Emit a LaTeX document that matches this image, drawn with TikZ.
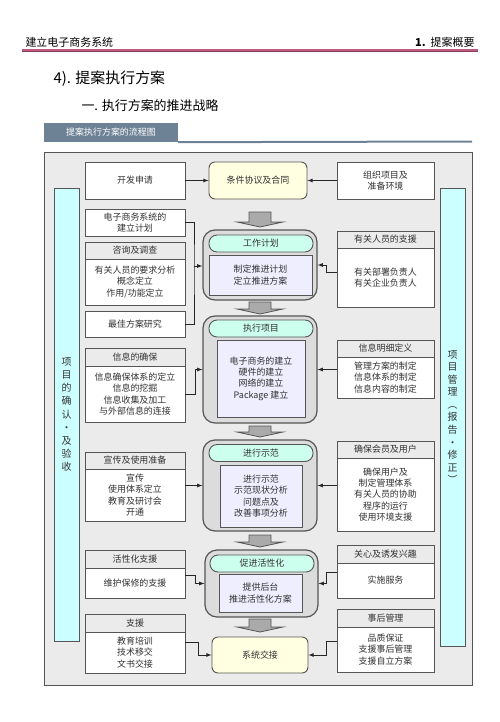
\documentclass[tikz,border=0pt]{standalone}
\usepackage{fontspec}
\setmainfont{Noto Sans CJK SC}
\usepackage{tikz}
\usetikzlibrary{arrows,calc}
\definecolor{framebg}{RGB}{235,235,235}
\definecolor{edge}{RGB}{85,85,85}
\definecolor{stagebg}{RGB}{220,220,220}
\definecolor{pillbg}{RGB}{204,255,238}
\definecolor{innerbg}{RGB}{238,238,255}
\definecolor{yellowbg}{RGB}{255,255,225}
\definecolor{barbg}{RGB}{204,255,255}
\definecolor{tabcol}{RGB}{110,130,150}
\definecolor{rulecol}{RGB}{190,90,130}
\definecolor{txt}{RGB}{50,50,50}
\definecolor{arrbg}{RGB}{170,170,170}

\begin{document}
\begin{tikzpicture}[x=1bp,y=-1bp,
    box/.style={draw=edge, fill=white, line width=0.9bp, inner sep=0pt, align=center, text=txt, font=\fontsize{9}{11.3}\selectfont},
    lbox/.style={box, minimum width=100bp},
    rbox/.style={box, minimum width=97bp},
    ybox/.style={box, fill=yellowbg, rounded corners=6bp},
    stage/.style={draw=edge, fill=stagebg, line width=1.2bp, rounded corners=12bp, minimum width=114bp, inner sep=0pt},
    pill/.style={box, fill=pillbg, rounded corners=8bp, minimum width=104bp, minimum height=17bp},
    inbox/.style={box, fill=innerbg},
    bar/.style={draw=edge, fill=barbg, line width=0.9bp, minimum width=25bp, inner sep=0pt, align=center, text=txt, font=\fontsize{10}{13.2}\selectfont},
    blockarr/.style={draw=edge, fill=arrbg, line width=0.8bp},
    conn/.style={draw=black!85, line width=0.8bp, -latex},
    line/.style={draw=black!85, line width=0.8bp}]
  \useasboundingbox (0,0) rectangle (500,722);

  \node[anchor=west, font=\fontsize{11}{13}\selectfont] (doctitle) at (22,42) {建立电子商务系统};
  \node[anchor=east, font=\fontsize{11}{13}\selectfont] (chapter) at (478,42) {\textbf{1.}\ \ 提案概要};
  \draw[rulecol, line width=3bp] (22,51) -- (478,51);
  \draw[rulecol!70!black, line width=0.7bp] (22,51) -- (478,51);
  \node[anchor=west, font=\fontsize{15}{18}\selectfont] (sec) at (50,79) {4). 提案执行方案};
  \node[anchor=west, font=\fontsize{13}{15}\selectfont] (subsec) at (78,106) {一. 执行方案的推进战略};
  \node[fill=tabcol, text=white, minimum width=134bp, minimum height=19bp, inner sep=0pt, font=\fontsize{9}{10}\selectfont] (tab) at (111,132.5) {提案执行方案的流程图};
  \draw[tabcol, line width=2bp] (tab.south east) -- (472,141.5);

  \draw[edge, fill=framebg, line width=1bp] (44,152) rectangle (472,685);

  \node[bar, minimum height=453bp] (confirm) at (66.5,414.5) {项\\目\\的\\确\\认\\•\\及\\验\\收};
  \node[bar, minimum height=458bp, font=\fontsize{10}{12.6}\selectfont] (manage) at (452.5,417) {项\\目\\管\\理\\︵\\报\\告\\•\\修\\正\\︶};

  \node[lbox, minimum height=37bp] (apply) at (135,180.5) {开发申请};
  \node[lbox, minimum height=27bp] (buildplan) at (135,222.5) {电子商务系统的\\建立计划};
  \node[lbox, fill=framebg, minimum height=17bp] (consult) at (135,250.5) {咨询及调查};
  \node[lbox, minimum height=46bp] (consultb) at (135,282) {有关人员的要求分析\\概念定立\\作用/功能定立};
  \node[lbox, minimum height=26bp] (bestplan) at (135,324) {最佳方案研究};
  \node[lbox, fill=framebg, minimum height=18bp] (infosec) at (135,357) {信息的确保};
  \node[lbox, minimum height=56bp] (infosecb) at (135,394) {信息确保体系的定立\\信息的挖掘\\信息收集及加工\\与外部信息的连接};
  \node[lbox, fill=framebg, minimum height=17bp] (promo) at (135,460.5) {宣传及使用准备};
  \node[lbox, minimum height=52bp] (promob) at (135,495) {宣传\\使用体系定立\\教育及研讨会\\开通};
  \node[lbox, fill=framebg, minimum height=18bp] (upkeep) at (135,559) {活性化支援};
  \node[lbox, minimum height=30bp] (upkeepb) at (135,583) {维护保修的支援};
  \node[lbox, fill=framebg, minimum height=18bp] (support) at (135,623) {支援};
  \node[lbox, minimum height=41bp] (supportb) at (135,652.5) {教育培训\\技术移交\\文书交接};

  \node[rbox, minimum height=37bp] (prepare) at (385.5,180.5) {组织项目及\\准备环境};
  \node[rbox, fill=framebg, minimum height=17bp] (staff) at (385.5,239.5) {有关人员的支援};
  \node[rbox, minimum height=59bp] (staffb) at (385.5,277.5) {有关部署负责人\\有关企业负责人};
  \node[rbox, fill=framebg, minimum height=17bp] (infodef) at (385.5,348.5) {信息明细定义};
  \node[rbox, minimum height=41bp] (infodefb) at (385.5,377.5) {管理方案的制定\\信息体系的制定\\信息内容的制定};
  \node[rbox, fill=framebg, minimum height=17bp] (users) at (385.5,449.5) {确保会员及用户};
  \node[rbox, minimum height=73bp] (usersb) at (385.5,494.5) {确保用户及\\制定管理体系\\有关人员的协助\\程序的运行\\使用环境支援};
  \node[rbox, fill=framebg, minimum height=18bp] (interest) at (385.5,554) {关心及诱发兴趣};
  \node[rbox, minimum height=35bp] (interestb) at (385.5,580.5) {实施服务};
  \node[rbox, fill=framebg, minimum height=18bp] (aftercare) at (385.5,618) {事后管理};
  \node[rbox, minimum height=45bp] (aftercareb) at (385.5,649.5) {品质保证\\支援事后管理\\支援自立方案};

  \node[ybox, minimum width=98bp, minimum height=37bp] (contract) at (258,180.5) {条件协议及合同};

  \node[stage, minimum height=70bp] (work) at (260,265) {};
  \node[pill] (workt) at (261,243.5) {工作计划};
  \node[inbox, minimum width=103bp, minimum height=40bp] (workb) at (260.5,275) {制定推进计划\\定立推进方案};

  \node[stage, minimum height=107bp] (exec) at (260,369.5) {};
  \node[pill] (exect) at (261,328.5) {执行项目};
  \node[inbox, minimum width=88bp, minimum height=77bp] (execb) at (261,378.5) {电子商务的建立\\硬件的建立\\网络的建立\\Package 建立};

  \node[stage, minimum height=91bp] (demo) at (260,485.5) {};
  \node[pill] (demot) at (261,453) {进行示范};
  \node[inbox, minimum width=82bp, minimum height=62bp] (demob) at (261,496) {进行示范\\示范现状分析\\问题点及\\改善事项分析};

  \node[stage, minimum width=113bp, minimum height=67bp] (boost) at (261.5,583.5) {};
  \node[pill] (boostt) at (262,563.5) {促进活性化};
  \node[inbox, minimum width=83bp, minimum height=38bp] (boostb) at (260.5,593) {提供后台\\推进活性化方案};

  \node[ybox, minimum width=96bp, minimum height=36bp] (handover) at (260,655) {系统交接};

  \foreach \ya/\yb in {212/227,302/314,426/437,535/547,619/632}
    \draw[blockarr] (249,\ya) -- (271,\ya) -- (271,\yb-5) -- (283,\yb-5) -- (260,\yb) -- (237,\yb-5) -- (249,\yb-5) -- cycle;

  \draw[conn] (apply.east) -- (contract.west);
  \draw[conn] (prepare.west) -- (contract.east);

  \coordinate (gather) at (194,266);
  \draw[line] (buildplan.east) -| (gather) |- (bestplan.east);
  \draw[conn] (gather) -- (gather -| work.west);
  \draw[conn] ($(staffb.west)+(0,-5)$) -- ++(-10,0) |- (work.east);

  \draw[conn] (infosecb.east) -- ++(10,0) |- (exec.west);
  \draw[conn] (infodefb.west |- exec.east) -- (exec.east);

  \draw[conn] (promob.east |- demo.west) -- (demo.west);
  \draw[conn] (usersb.west |- demo.east) -- (demo.east);

  \draw[conn] ($(upkeepb.east)+(0,-8)$) -- ++(10,0) |- (boost.west);
  \draw[conn] ($(interestb.west)+(0,-8)$) -- ++(-10,0) |- (boost.east);

  \draw[conn] ($(supportb.east)+(0,-10)$) -- ++(13,0) |- (handover.west);
  \draw[conn] ($(aftercareb.west)+(0,-8)$) -- ++(-10,0) |- (handover.east);
\end{tikzpicture}
\end{document}
